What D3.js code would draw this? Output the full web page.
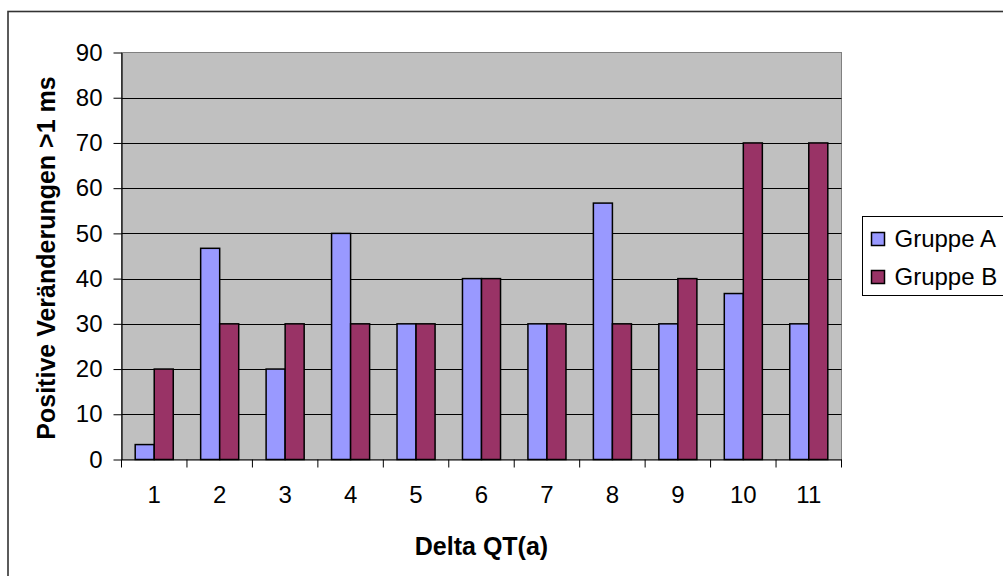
<!DOCTYPE html>
<html>
<head>
<meta charset="utf-8">
<script src="https://cdn.jsdelivr.net/npm/d3@7"></script>
<style>
  body { margin: 0; background: #fff; }
  svg { display: block; font-family: Arial, "Liberation Sans", sans-serif; }
</style>
</head>
<body>
<svg id="chart" width="1003" height="576"></svg>
<script>
// chart data
const categories = ["1", "2", "3", "4", "5", "6", "7", "8", "9", "10", "11"];
const seriesNames = ["Gruppe A", "Gruppe B"];
const gruppeA = [3.3, 46.7, 20, 50, 30, 40, 30, 56.7, 30, 36.7, 30];
const gruppeB = [20, 30, 30, 30, 30, 40, 30, 30, 40, 70, 70];
const yTicks = [0, 10, 20, 30, 40, 50, 60, 70, 80, 90];

const colors = { "Gruppe A": "#9999FF", "Gruppe B": "#993366" };

const rows = categories.map((c, i) => ({ cat: c, "Gruppe A": gruppeA[i], "Gruppe B": gruppeB[i] }));

const svg = d3.select('#chart');
const plot = { left: 121.5, right: 841.5, top: 52.5, bottom: 459.5 };
const fontSize = '24px';
const titleSize = '25px';

// outer chart border
svg.append('rect')
    .attr('x', 8).attr('y', 11.5)
    .attr('width', 1100).attr('height', 700)
    .attr('fill', 'none')
    .attr('stroke', '#333')
    .attr('stroke-width', 1.6);

const x0 = d3.scaleBand()
    .domain(categories)
    .range([plot.left, plot.right])
    .padding(0);

const x1 = d3.scaleBand()
    .domain(seriesNames)
    .range([0, x0.bandwidth()])
    .paddingInner(0)
    .paddingOuter(0.72);

const y = d3.scaleLinear()
    .domain([0, 90])
    .range([plot.bottom, plot.top]);

// plot background
svg.append('rect')
    .attr('x', plot.left).attr('y', plot.top)
    .attr('width', plot.right - plot.left)
    .attr('height', plot.bottom - plot.top)
    .attr('fill', '#C0C0C0')
    .attr('stroke', '#808080')
    .attr('stroke-width', 1);

// gridlines
svg.append('g')
    .selectAll('line')
    .data(yTicks.filter(d => d > 0 && d < 90))
    .join('line')
    .attr('x1', plot.left).attr('x2', plot.right)
    .attr('y1', d => Math.round(y(d)) + 0.5).attr('y2', d => Math.round(y(d)) + 0.5)
    .attr('stroke', '#000')
    .attr('stroke-width', 1);

// bars
svg.append('g')
    .selectAll('g')
    .data(rows)
    .join('g')
    .attr('transform', d => `translate(${x0(d.cat)},0)`)
    .selectAll('rect')
    .data(d => seriesNames.map(k => ({ key: k, value: d[k] })))
    .join('rect')
    .attr('x', d => x1(d.key))
    .attr('y', d => y(d.value))
    .attr('width', x1.bandwidth())
    .attr('height', d => y(0) - y(d.value))
    .attr('fill', d => colors[d.key])
    .attr('stroke', '#000')
    .attr('stroke-width', 1.5);

// axes
const yAxis = svg.append('g')
    .attr('transform', `translate(${plot.left},0)`)
    .call(d3.axisLeft(y).tickValues(yTicks).tickSize(8).tickPadding(11).tickSizeOuter(0));

const xAxis = svg.append('g')
    .attr('transform', `translate(0,${plot.bottom})`)
    .call(d3.axisBottom(x0).tickSize(0).tickPadding(26).tickSizeOuter(0));

// category separators on the x axis
svg.append('g')
    .selectAll('line')
    .data(categories.concat(['end']))
    .join('line')
    .attr('x1', (d, i) => plot.left + i * x0.step())
    .attr('x2', (d, i) => plot.left + i * x0.step())
    .attr('y1', plot.bottom)
    .attr('y2', plot.bottom + 8)
    .attr('stroke', '#000');

[yAxis, xAxis].forEach(g => {
    g.selectAll('path').attr('stroke', '#000').attr('stroke-width', 1.2);
    g.selectAll('line').attr('stroke', '#000');
    g.selectAll('text')
        .attr('fill', '#000')
        .style('font-size', fontSize)
        .style('font-family', 'Arial, "Liberation Sans", sans-serif');
});

// axis titles
svg.append('text')
    .attr('x', (plot.left + plot.right) / 2)
    .attr('y', 555)
    .attr('text-anchor', 'middle')
    .style('font-size', titleSize)
    .style('font-weight', 'bold')
    .text('Delta QT(a)');

svg.append('text')
    .attr('transform', `translate(55,${(plot.top + plot.bottom) / 2 + 2}) rotate(-90)`)
    .attr('text-anchor', 'middle')
    .style('font-size', titleSize)
    .style('font-weight', 'bold')
    .text('Positive Veränderungen >1 ms');

// legend
const legend = svg.append('g').attr('transform', 'translate(862.5,216.5)');
legend.append('rect')
    .attr('width', 200).attr('height', 79)
    .attr('fill', '#fff')
    .attr('stroke', '#000')
    .attr('stroke-width', 1);

const items = legend.selectAll('g')
    .data(seriesNames)
    .join('g')
    .attr('transform', (d, i) => `translate(9,${16 + i * 38})`);

items.append('rect')
    .attr('width', 13).attr('height', 13)
    .attr('fill', d => colors[d])
    .attr('stroke', '#000')
    .attr('stroke-width', 1.5);

items.append('text')
    .attr('x', 23)
    .attr('y', 14)
    .style('font-size', fontSize)
    .text(d => d);
</script>
</body>
</html>
